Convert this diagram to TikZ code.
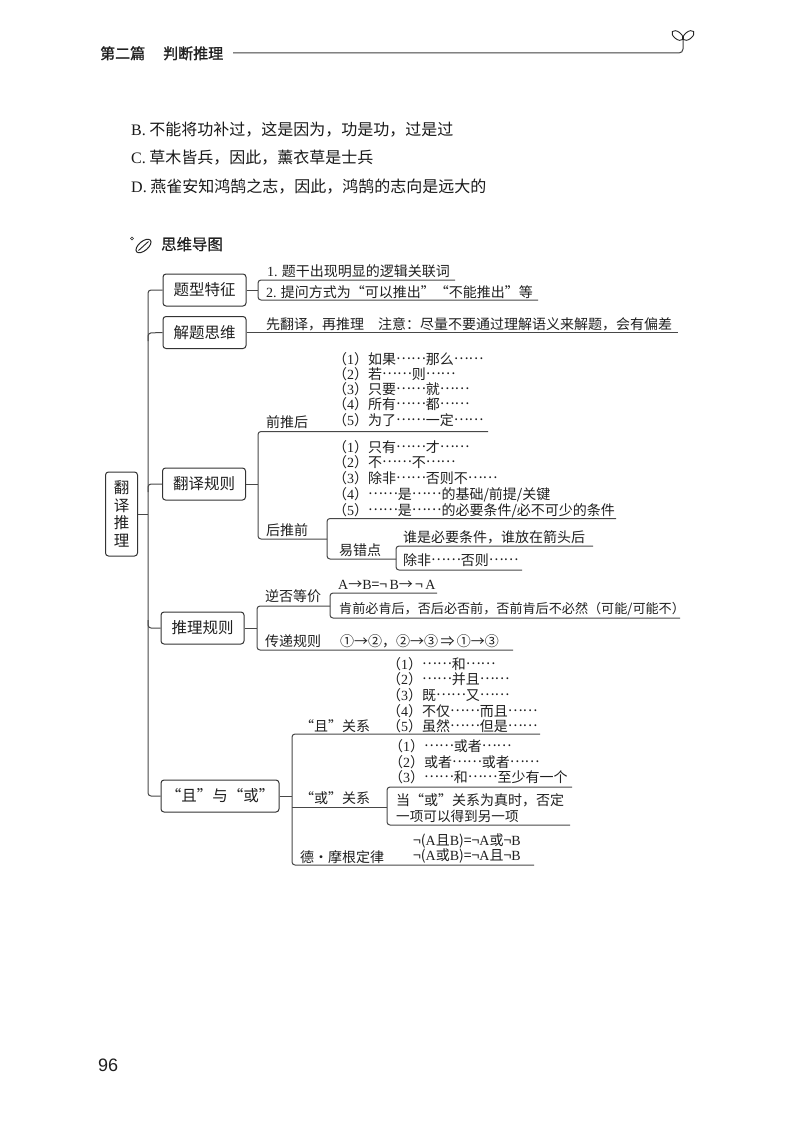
\documentclass[tikz,border=0pt]{standalone}
\usepackage{fontspec}
\setmainfont{Liberation Serif}
\newfontfamily\cjk{Noto Sans CJK SC}
\newfontfamily\cjkb[FakeBold=1.2]{Noto Sans CJK SC}
\newfontfamily\cjkm[FakeBold=0.5]{Noto Sans CJK SC}
\newfontfamily\arial{Liberation Sans}
\newcommand{\lat}[1]{{\rmfamily #1}}
\newcommand{\dd}{\raisebox{.33em}[0pt][0pt]{……}}
\newcommand{\qo}{\makebox[1em][r]{“}}
\newcommand{\qc}{\makebox[1em][l]{”}}
\tikzset{
 t/.style={inner sep=0pt,anchor=base west,text=black!88,text height=11pt,text depth=1.5pt,font=\cjk\fontsize{14}{14}\selectfont},
 big/.style={inner sep=0pt,anchor=base west,text=black!90,font=\cjk\fontsize{16}{16}\selectfont},
 box/.style={draw=black!80,line width=1pt,rounded corners=3pt,inner sep=0pt,align=center,text=black!88,font=\cjk\fontsize{15.5}{16}\selectfont},
 ln/.style={draw=black!72,line width=1pt,rounded corners=3pt},
}
\begin{document}
\begin{tikzpicture}[x=1pt,y=-1pt]
\useasboundingbox (0,0) rectangle (800,1132);
\fill[white] (0,0) rectangle (800,1132);
% header
\node[t,font=\cjkb\fontsize{15}{15}\selectfont] (h1) at (100,59) {第二篇};
\node[t,font=\cjkb\fontsize{15}{15}\selectfont] (h2) at (163,59) {判断推理};
\coordinate (hend) at (683,39);
\draw[black!75,line width=1pt,rounded corners=4pt] (233,53) -- (683,53) -- (hend);
\draw[black!85,line width=.9pt,rotate around={-38:(677.5,35.5)}] (677.5,35.5) ellipse (6.5 and 3.6);
\draw[black!85,line width=.9pt,rotate around={38:(688.5,35.5)}] (688.5,35.5) ellipse (6.5 and 3.6);
% options
\node[big] (b) at (131,135) {\lat{B.} 不能将功补过，这是因为，功是功，过是过};
\node[big] (c) at (131,163) {\lat{C.} 草木皆兵，因此，薰衣草是士兵};
\node[big] (d) at (131,192) {\lat{D.} 燕雀安知鸿鹄之志，因此，鸿鹄的志向是远大的};
% title
\draw[black!85,line width=.6pt] (132,238.5) circle (1.5);
\draw[black!85,line width=1pt,rotate around={40:(143.5,246)}] (143.5,246) ellipse (9 and 4.6);
\draw[black!85,line width=.9pt] (138.5,250.5) -- (148.5,241.5);
\node[t,font=\cjkm\fontsize{15.4}{16}\selectfont] (title) at (161,250) {思维导图};
% page number
\node[t,font=\arial\fontsize{18}{18}\selectfont] (pg) at (98,1071) {96};
% boxes
\node[box,minimum width=32pt,minimum height=84pt,font=\cjk\fontsize{15.5}{17.5}\selectfont] (root) at (121.5,514) {翻\\译\\推\\理};
\node[box,minimum width=83pt,minimum height=32pt] (b1) at (204.5,290) {题型特征};
\node[box,minimum width=83pt,minimum height=32pt] (b2) at (204.5,332.5) {解题思维};
\node[box,minimum width=83pt,minimum height=32pt] (b3) at (204,484) {翻译规则};
\node[box,minimum width=83pt,minimum height=32pt] (b4) at (202.5,628) {推理规则};
\node[box,minimum width=118pt,minimum height=32pt] (b5) at (220,796) {\qo 且\qc 与\qo 或\qc};
% trunk
\coordinate (tr1) at (148,290);
\coordinate (tr2) at (148,333);
\coordinate (tr3) at (148,484);
\coordinate (trr) at (148,514);
\coordinate (tr4) at (148,628);
\coordinate (tr5) at (148,796);
\draw[ln] (b1.west) -- (tr1) -- (tr5) -- (b5.west);
\draw[ln] (b2.west) -- (tr2) -- ++(0,8);
\draw[ln] (b3.west) -- (tr3) -- ++(0,8);
\draw[ln] (b4.west) -- (tr4) -- ++(0,-8);
\draw[ln] (root.east) -- (trr);
% branch 1
\coordinate (j1) at (258,290);
\coordinate (j1a) at (258,280);
\coordinate (j1b) at (258,300);
\coordinate (e1a) at (455,280);
\coordinate (e1b) at (538,300);
\draw[ln] (b1.east) -- (j1);
\draw[ln] (e1a) -- (j1a) -- (j1b) -- (e1b);
\node[t] (t1a) at (267,276) {\lat{1.} 题干出现明显的逻辑关联词};
\node[t] (t1b) at (266,297) {\lat{2.} 提问方式为\qo 可以推出\qc\qo 不能推出\qc 等};
% branch 2
\coordinate (e2) at (678,332.5);
\draw[ln] (b2.east) -- (e2);
\node[t] (t2) at (266,329) {先翻译，再推理　注意：尽量不要通过理解语义来解题，会有偏差};
% branch 3
\coordinate (j3) at (258,484);
\coordinate (j3a) at (258,431.5);
\coordinate (j3b) at (258,539);
\coordinate (e3a) at (488,431.5);
\coordinate (j4) at (327,539);
\coordinate (j4a) at (327,518.5);
\coordinate (j4b) at (327,559);
\coordinate (e4a) at (616,518.5);
\coordinate (j5) at (396,559);
\coordinate (j5a) at (396,546);
\coordinate (j5b) at (396,570);
\coordinate (e5a) at (593,546);
\coordinate (e5b) at (522,570);
\draw[ln] (b3.east) -- (j3);
\draw[ln] (e3a) -- (j3a) -- (j3b) -- (j4);
\draw[ln] (e4a) -- (j4a) -- (j4b) -- (j5);
\draw[ln] (e5a) -- (j5a) -- (j5b) -- (e5b);
\node[t] (qt) at (266,427) {前推后};
\node[t] (ht) at (266,535) {后推前};
\node[t] (yc) at (339,555) {易错点};
\node[t] (y1) at (403,542) {谁是必要条件，谁放在箭头后};
\node[t] (y2) at (403,565) {除非\dd 否则\dd};
\node[t] (l11) at (333,364) {（\lat{1}）如果\dd 那么\dd};
\node[t] (l12) at (333,379) {（\lat{2}）若\dd 则\dd};
\node[t] (l13) at (333,394) {（\lat{3}）只要\dd 就\dd};
\node[t] (l14) at (333,409) {（\lat{4}）所有\dd 都\dd};
\node[t] (l15) at (333,425) {（\lat{5}）为了\dd 一定\dd};
\node[t] (l21) at (333,452) {（\lat{1}）只有\dd 才\dd};
\node[t] (l22) at (333,467) {（\lat{2}）不\dd 不\dd};
\node[t] (l23) at (333,483) {（\lat{3}）除非\dd 否则不\dd};
\node[t] (l24) at (333,499) {（\lat{4}）\dd 是\dd 的基础/前提/关键};
\node[t] (l25) at (333,515) {（\lat{5}）\dd 是\dd 的必要条件/必不可少的条件};
% branch 4
\coordinate (j6) at (257,628);
\coordinate (j6a) at (257,606);
\coordinate (j6b) at (257,650);
\coordinate (e6b) at (513,650);
\coordinate (j7) at (330,606);
\coordinate (j7a) at (330,593);
\coordinate (j7b) at (330,618);
\coordinate (e7a) at (437,593);
\coordinate (e7b) at (680,618);
\draw[ln] (b4.east) -- (j6);
\draw[ln] (j7) -- (j6a) -- (j6b) -- (e6b);
\draw[ln] (e7a) -- (j7a) -- (j7b) -- (e7b);
\node[t] (ni) at (265,601) {逆否等价};
\node[t] (cd) at (265,646) {传递规则};
\node[t] (f1) at (338,589) {\lat{A}→\lat{B}=¬\,\lat{B}→\,¬\,\lat{A}};
\node[t,font=\cjk\fontsize{13.1}{14}\selectfont] (f2) at (339,613) {肯前必肯后，否后必否前，否前肯后不必然（可能/可能不）};
\node[t] (f3) at (340,646) {①→②，②→③\,⇒\,①→③};
% branch 5
\coordinate (j8) at (292,796);
\coordinate (j8a) at (292,734);
\coordinate (j8b) at (292,865);
\coordinate (j8m) at (292,807);
\coordinate (e8a) at (540,734);
\coordinate (e8b) at (534,865);
\coordinate (j9) at (387,807);
\coordinate (j9a) at (387,787);
\coordinate (j9b) at (387,825);
\coordinate (e9a) at (572,787);
\coordinate (e9b) at (570,825);
\draw[ln] (b5.east) -- (j8);
\draw[ln] (e8a) -- (j8a) -- (j8b) -- (e8b);
\draw[ln] (j8m) -- (j9);
\draw[ln] (e9a) -- (j9a) -- (j9b) -- (e9b);
\node[t] (qie) at (300,731) {\qo 且\qc 关系};
\node[t] (huo) at (300,803) {\qo 或\qc 关系};
\node[t] (dm) at (300,862) {德·摩根定律};
\node[t] (l31) at (387,669) {（\lat{1}）\dd 和\dd};
\node[t] (l32) at (387,684) {（\lat{2}）\dd 并且\dd};
\node[t] (l33) at (387,700) {（\lat{3}）既\dd 又\dd};
\node[t] (l34) at (387,716) {（\lat{4}）不仅\dd 而且\dd};
\node[t] (l35) at (387,731) {（\lat{5}）虽然\dd 但是\dd};
\node[t] (l41) at (389,751) {（\lat{1}）\dd 或者\dd};
\node[t] (l42) at (389,767) {（\lat{2}）或者\dd 或者\dd};
\node[t] (l43) at (389,782) {（\lat{3}）\dd 和\dd 至少有一个};
\node[t] (h1t) at (396,805) {当\qo 或\qc 关系为真时，否定};
\node[t,font=\cjk\fontsize{13.6}{14}\selectfont] (h2t) at (396,821) {一项可以得到另一项};
\node[t] (m1) at (413,845) {¬(\lat{A}且\lat{B})=¬\lat{A}或¬\lat{B}};
\node[t] (m2) at (413,860) {¬(\lat{A}或\lat{B})=¬\lat{A}且¬\lat{B}};
\end{tikzpicture}
\end{document}
